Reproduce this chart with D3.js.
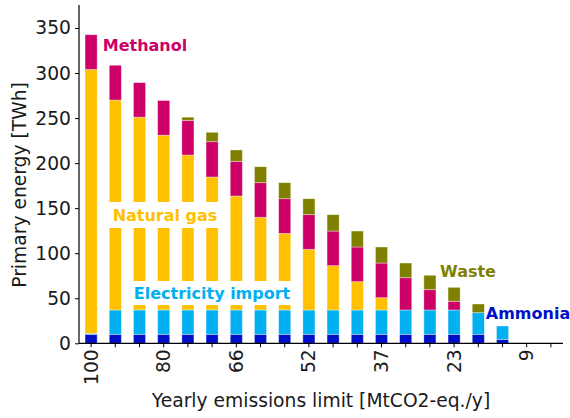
<!DOCTYPE html>
<html><head><meta charset="utf-8">
<script src="https://cdn.jsdelivr.net/npm/d3@7"></script>
<style>body{margin:0;background:#fff}svg{display:block}text{font-family:"DejaVu Sans",sans-serif}</style>
</head><body><svg id="c" width="570" height="418"></svg>
<script>
const categories = ["100","93","87","80","75","70","66","61","57","52","47","42","37","33","28","23","19","14","9","5"];
const tickLabels = ["100","80","66","52","37","23","9"];
const ammonia     = [10,10,10,10,10,10,10,10,10,10,10,10,10,10,10,10,10,4.4,0,0];
const electricity = [1,27,27,27,27,27,27,27,27,27,27,27,27,27,27,27,24,14.8,0,0];
const naturalGas  = [293,233,214,194,172,147.6,126.5,102.9,85,67.3,49.2,31.4,13.6,0,0,0,0,0,0,0];
const methanol    = [38.5,38.6,38.3,38.5,38.5,39.2,38.5,38.4,38.5,38.5,38.4,38.5,38.5,35.8,22.5,9.6,0,0,0,0];
const waste       = [0,0,0,0,3.5,10.4,12.6,17.7,17.8,17.7,18.2,17.7,17.8,16.3,16,15.5,9.6,0,0,0];
const seriesNames = ["Ammonia","Electricity import","Natural gas","Methanol","Waste"];
const colors = {"Ammonia":"#0010c8","Electricity import":"#00b0f0","Natural gas":"#ffc000","Methanol":"#cc0066","Waste":"#808000"};

const svg = d3.select("#c");
const L=79, R=563, T=5, B=343.3;
const x = d3.scaleBand().domain(categories).range([L,R]).paddingInner(0.5).paddingOuter(0.25);
const y = d3.scaleLinear().domain([0,375.5]).range([B,T]);

const rows = categories.map((c,i)=>({cat:c,"Ammonia":ammonia[i],"Electricity import":electricity[i],"Natural gas":naturalGas[i],"Methanol":methanol[i],"Waste":waste[i]}));
const stack = d3.stack().keys(seriesNames)(rows);

const g = svg.append("g");
stack.forEach(s=>{
  g.selectAll(null).data(s.filter(d=>d[1]-d[0]>0)).enter().append("rect")
   .attr("x",d=>x(d.data.cat)).attr("width",x.bandwidth())
   .attr("y",d=>y(d[1])).attr("height",d=>y(d[0])-y(d[1]))
   .attr("fill",colors[s.key]).attr("stroke","#fff").attr("stroke-opacity",0.45).attr("stroke-width",0.8);
});

// axes
const yAxis = d3.axisLeft(y).tickValues(d3.range(0,351,50)).tickSize(4).tickPadding(4);
const ya = svg.append("g").attr("transform",`translate(${L},0)`).call(yAxis);
ya.select(".domain").attr("d",`M0,${T}V${B}`).attr("stroke","#000").attr("stroke-width",1.2);
ya.selectAll("text").attr("font-size","18.7px").attr("fill","#1a1a1a").attr("font-family","DejaVu Sans");

const xAxis = d3.axisBottom(x).tickSize(4).tickFormat(d=>tickLabels.includes(d)&&categories.indexOf(d)%3===0?d:"");
const xa = svg.append("g").attr("transform",`translate(0,${B})`).call(xAxis);
xa.select(".domain").attr("d",`M${L},0H${R}`).attr("stroke","#000").attr("stroke-width",1.2);
xa.selectAll("text").attr("font-size","18.7px").attr("fill","#1a1a1a").attr("font-family","DejaVu Sans")
  .attr("transform","rotate(-90)").attr("text-anchor","end").attr("x",-6).attr("y",0).attr("dy","0.35em");

svg.append("text").attr("x",321).attr("y",407).attr("text-anchor","middle").attr("font-size","18.7px").attr("fill","#1a1a1a").text("Yearly emissions limit [MtCO2-eq./y]");
svg.append("text").attr("transform","translate(26,185) rotate(-90)").attr("text-anchor","middle").attr("font-size","18.7px").attr("fill","#1a1a1a").text("Primary energy [TWh]");

function label(txt,cx,cy,col,box){
  const t = svg.append("text").attr("x",cx).attr("y",cy).attr("text-anchor","middle").attr("dy","0.35em")
    .attr("font-size","16px").attr("font-weight","bold").attr("fill",col).text(txt);
  if(box){
    const bb=t.node().getBBox();
    svg.insert("rect",()=>t.node()).attr("x",bb.x-box[0]).attr("y",cy-box[1]).attr("width",bb.width+2*box[0]).attr("height",2*box[1]).attr("fill","#fff");
  }
}
label("Methanol",145,45,colors["Methanol"]);
label("Natural gas",165,215,colors["Natural gas"],[8,13]);
label("Electricity import",212,293,colors["Electricity import"],[8,12]);
label("Waste",468,271,colors["Waste"]);
label("Ammonia",528,313,colors["Ammonia"]);
</script></body></html>
